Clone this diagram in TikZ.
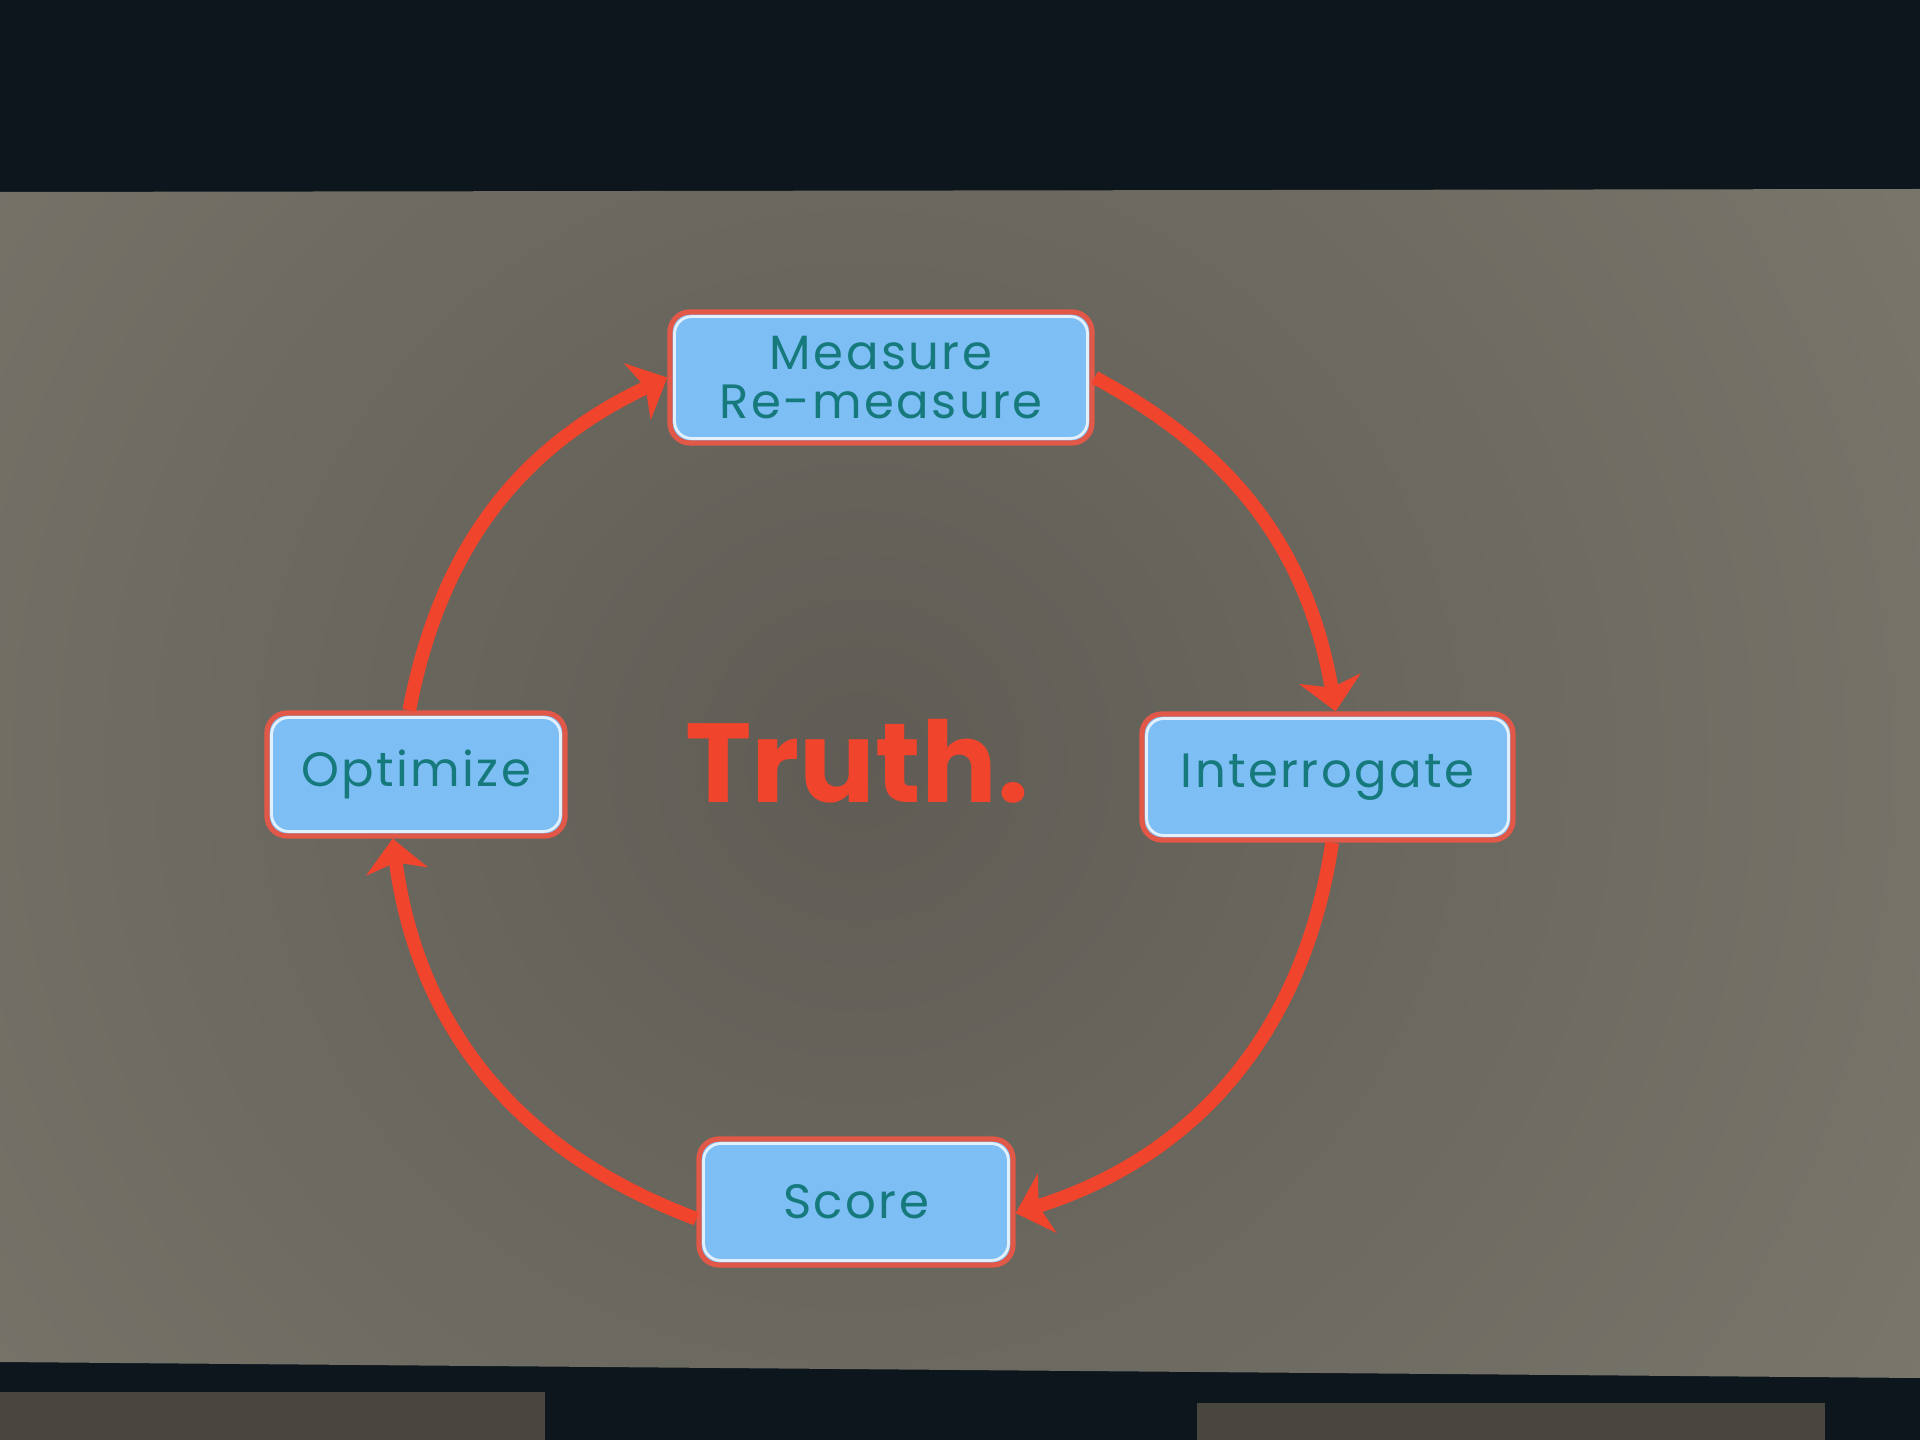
\documentclass[tikz,border=0pt]{standalone}
\usepackage{fontspec}
\setmainfont{Poppins}
\newfontfamily\boxfont[LetterSpace=5]{Poppins}
\usepackage{tikz}
\usetikzlibrary{arrows.meta,positioning}
\definecolor{screen}{RGB}{13,21,29}
\definecolor{seat}{RGB}{72,70,62}
\definecolor{slidemid}{RGB}{94,92,84}
\definecolor{slideedge}{RGB}{142,140,126}
\definecolor{boxfill}{RGB}{125,190,245}
\definecolor{boxrim}{RGB}{226,88,72}
\definecolor{rimwhite}{RGB}{225,240,252}
\definecolor{boxtext}{RGB}{22,122,124}
\definecolor{loopred}{RGB}{240,68,45}
\tikzset{
  cbox/.style  = {rounded corners=0.2cm, draw=boxrim, fill=boxfill, line width=1.5pt,
                  text=boxtext, align=center, inner sep=0pt, minimum height=1.26cm,
                  font=\boxfont\fontsize{13.7}{14}\selectfont,
                  path picture={\draw[rimwhite, line width=0.8pt, rounded corners=0.17cm]
                    ([shift={(1.3pt,1.3pt)}]path picture bounding box.south west) rectangle
                    ([shift={(-1.3pt,-1.3pt)}]path picture bounding box.north east);}},
  truth/.style = {text=loopred, inner sep=0pt, font=\bfseries\fontsize{32}{32}\selectfont},
  flow/.style  = {-{Stealth[length=3.3mm, width=6.2mm, inset=0.9mm]}, draw=loopred,
                  line width=3.9pt},
}

\begin{document}
\begin{tikzpicture}

% ---------------- room and screen -------------------------------------
\useasboundingbox (0,0) rectangle (19.2,14.4);
\fill[screen] (0,0) rectangle (19.2,14.4);
\begin{scope}
  \clip (0,12.48) -- (19.2,12.51) -- (19.2,0.62) -- (0,0.78) -- cycle;
  \shade[inner color=slidemid, outer color=slideedge] (8.6,6.8) circle (22);
\end{scope}
\fill[seat] (0,0) rectangle (5.45,0.48);
\fill[seat] (11.97,0) rectangle (18.25,0.37);

% ---------------- the four steps --------------------------------------
\node[cbox, minimum width=4.22cm, minimum height=1.31cm] (meas) at (8.81,10.625)
  {Measure\\Re-measure};
\node[cbox, minimum width=3.71cm] (inter) at (13.275,6.63) {Interrogate};
\node[cbox, minimum width=3.14cm] (score) at (8.56,2.38) {Score};
\node[cbox, minimum width=2.98cm, minimum height=1.23cm] (opt) at (4.16,6.655)
  {Optimize};

\node[truth, anchor=base] (truth) at (8.57,6.37) {Truth.};

% ---------------- the loop --------------------------------------------
\foreach \a/\b/\ang in {opt.96/meas.west/27, meas.east/inter.83/26,
                        inter.274/score.356/32, score.186/opt.250/31}
  \draw[flow] (\a) to[bend left=\ang] (\b);

\end{tikzpicture}
\end{document}
